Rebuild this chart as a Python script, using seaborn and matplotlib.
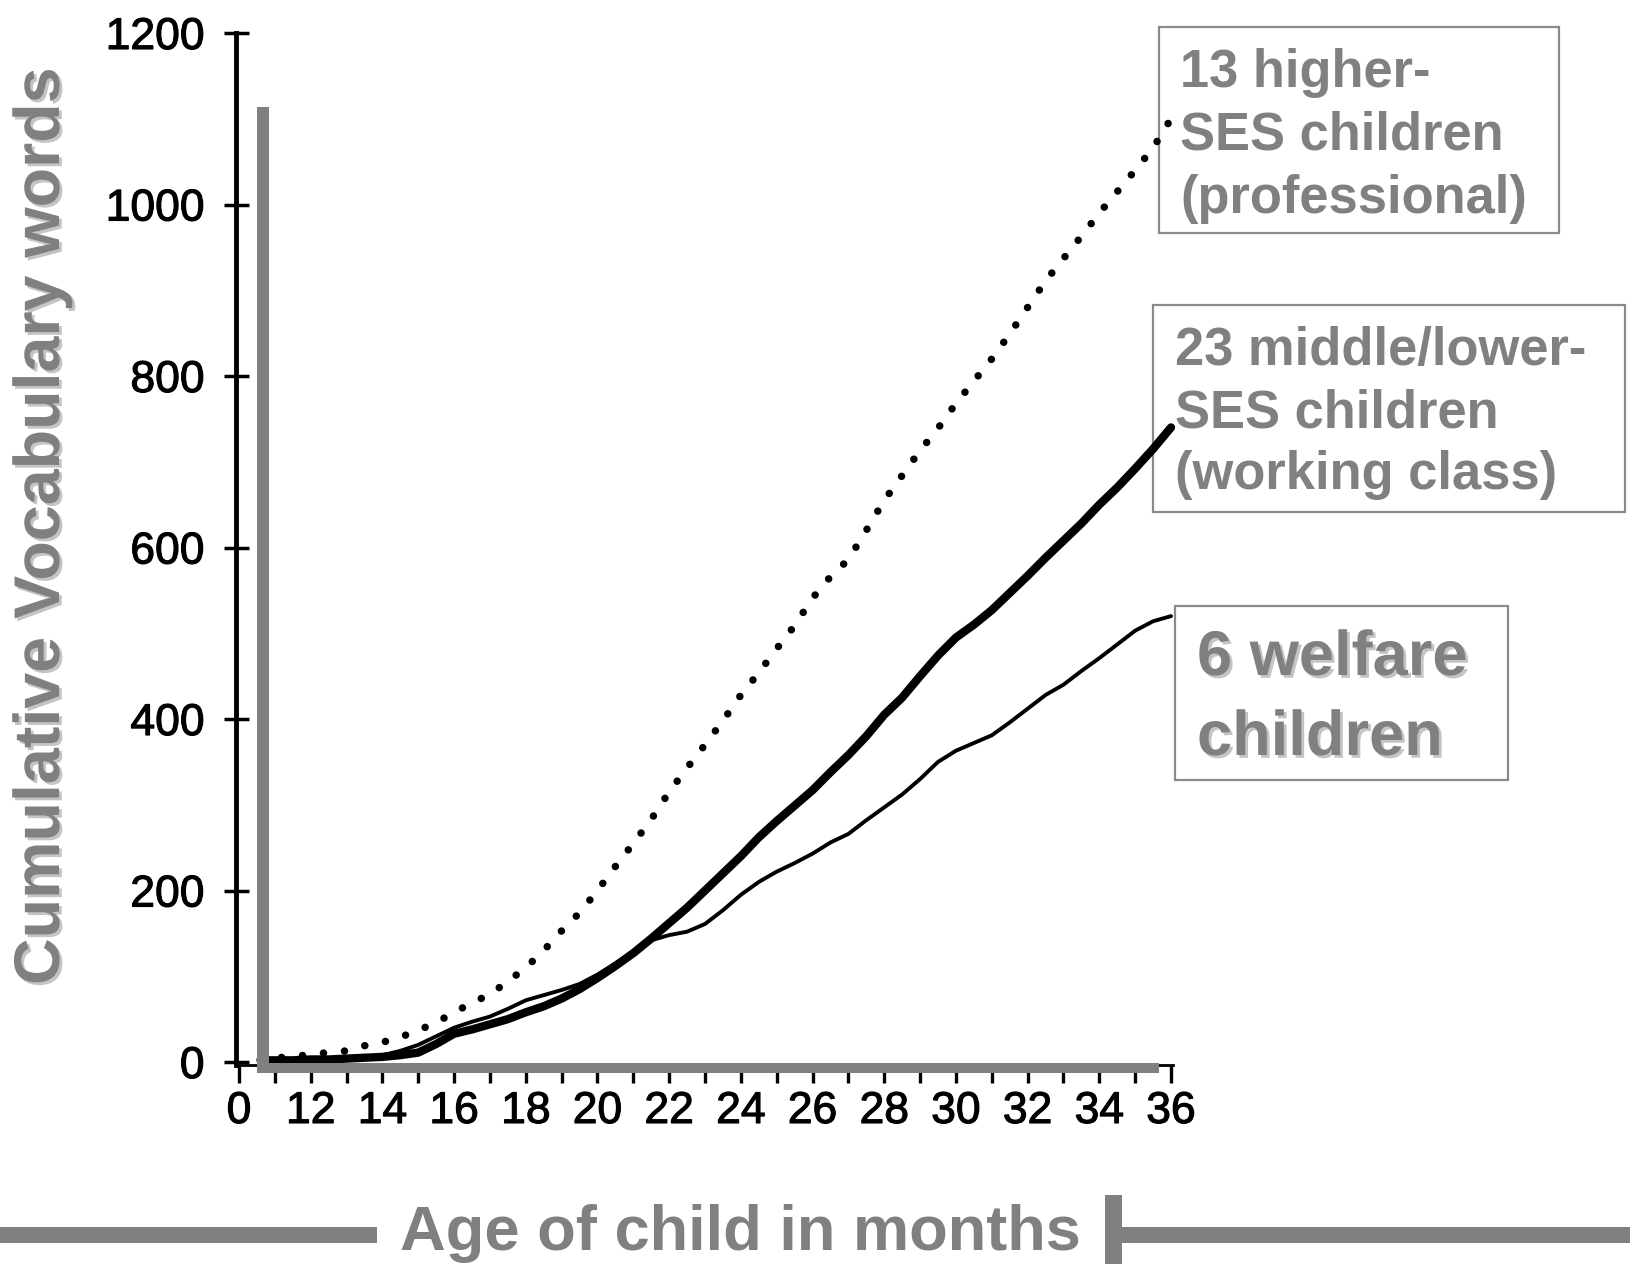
import matplotlib
matplotlib.use("Agg")
import matplotlib.pyplot as plt
import matplotlib.patheffects as pe
from matplotlib.patches import Rectangle
import pandas as pd
import seaborn as sns

# ---------------- data ----------------
months = [10.6, 11.0, 11.5, 12.0, 12.5, 13.0, 13.5, 14.0, 14.5, 15.0,
          15.5, 16.0, 16.5, 17.0, 17.5, 18.0, 18.5, 19.0, 19.5, 20.0,
          20.5, 21.0, 21.5, 22.0, 22.5, 23.0, 23.5, 24.0, 24.5, 25.0,
          25.5, 26.0, 26.5, 27.0, 27.5, 28.0, 28.5, 29.0, 29.5, 30.0,
          30.5, 31.0, 31.5, 32.0, 32.5, 33.0, 33.5, 34.0, 34.5, 35.0,
          35.5, 36.0]
higher_ses = [4, 5, 6, 9, 11, 13, 19, 23, 29, 37,
              46, 58, 69, 79, 94, 110, 130, 153, 174, 200,
              228, 255, 283, 315, 343, 370, 398, 428, 454, 482,
              509, 541, 566, 586, 620, 655, 684, 713, 739, 768,
              794, 820, 849, 880, 911, 937, 963, 990, 1015, 1040,
              1066, 1100]
middle_lower_ses = [2, 2, 2, 3, 3, 4, 5, 6, 8, 11,
                    21, 33, 38, 44, 50, 58, 65, 74, 85, 98,
                    112, 127, 144, 162, 180, 200, 220, 240, 262, 281,
                    299, 317, 338, 358, 380, 405, 425, 450, 474, 495,
                    510, 527, 547, 567, 588, 608, 628, 650, 670, 692,
                    715, 740]
welfare = [3, 3, 3, 4, 4, 5, 6, 8, 13, 20,
           30, 40, 47, 53, 62, 72, 78, 84, 91, 102,
           115, 128, 142, 148, 152, 161, 177, 195, 210, 222,
           232, 243, 256, 266, 282, 297, 312, 330, 350, 363,
           372, 381, 396, 412, 428, 440, 456, 471, 487, 503,
           514, 520]

x_major_ticks = [10, 12, 14, 16, 18, 20, 22, 24, 26, 28, 30, 32, 34, 36]
x_tick_labels = ["0", "12", "14", "16", "18", "20", "22", "24", "26", "28",
                 "30", "32", "34", "36"]
x_minor_ticks = [11, 13, 15, 17, 19, 21, 23, 25, 27, 29, 31, 33, 35]
y_ticks = [0, 200, 400, 600, 800, 1000, 1200]
y_tick_labels = ["0", "200", "400", "600", "800", "1000", "1200"]

label_higher = ["13 higher-", "SES children", "(professional)"]
label_middle = ["23 middle/lower-", "SES children", "(working class)"]
label_welfare = ["6 welfare", "children"]
x_label = "Age of child in months"
y_label = "Cumulative Vocabulary words"

# ---------------- styling ----------------
sns.set_theme(style="white")
plt.rcParams['font.family'] = ['Liberation Sans', 'DejaVu Sans']

GRAY = "#808080"
SHADOW = "#c4c4c4"
W, H = 1631, 1264


def fx(px):
    return px / W


def fy(py):
    return 1 - py / H


fig = plt.figure(figsize=(W / 100, H / 100), dpi=100)
fig.patch.set_facecolor("white")

# annotation boxes (drawn under the axes so the curves run over them)
def box(x0, y0, x1, y1):
    fig.add_artist(Rectangle((fx(x0), fy(y1)), (x1 - x0) / W, (y1 - y0) / H,
                             transform=fig.transFigure, facecolor="none",
                             edgecolor="#8a8a8a", linewidth=1.6, zorder=-1))


box(1159, 27, 1559, 233)
box(1153, 305, 1625, 512)
box(1175, 606, 1508, 780)

ax_left, ax_right, ax_top, ax_bottom = 236.5, 1172.8, 33.0, 1064.6
ax = fig.add_axes([fx(ax_left), fy(ax_bottom), (ax_right - ax_left) / W,
                   (ax_bottom - ax_top) / H])
ax.patch.set_alpha(0)

df = pd.DataFrame({"month": months, "higher": higher_ses,
                   "middle": middle_lower_ses, "welfare": welfare})

sns.lineplot(data=df, x="month", y="higher", ax=ax, color="black",
             linewidth=5.4, linestyle=(0, (0.01, 2.8)),
             dash_capstyle="round", zorder=6, clip_on=False)
sns.lineplot(data=df, x="month", y="middle", ax=ax, color="black",
             linewidth=6.0, solid_capstyle="round", zorder=5, clip_on=False)
sns.lineplot(data=df, x="month", y="welfare", ax=ax, color="black",
             linewidth=2.8, solid_capstyle="round", zorder=5, clip_on=False)

ax.set_xlim(9.93, 36.05)
ax.set_ylim(-3, 1200)
ax.set_xlabel("")
ax.set_ylabel("")

ax.set_xticks(x_major_ticks)
ax.set_xticklabels(x_tick_labels)
ax.set_xticks(x_minor_ticks, minor=True)
ax.set_yticks(y_ticks)
ax.set_yticklabels(y_tick_labels)

ax.tick_params(axis="y", direction="inout", length=18, width=2.5,
               pad=14, labelsize=32, colors="black", left=True)
ax.tick_params(axis="x", which="major", direction="out", length=13,
               width=2.4, pad=6, labelsize=32, colors="black", bottom=True)
ax.tick_params(axis="x", which="minor", direction="out", length=13,
               width=2.4, colors="black", bottom=True)

thick_fx = [pe.withStroke(linewidth=0.8, foreground="black")]
for lab in ax.get_xticklabels() + ax.get_yticklabels():
    lab.set_path_effects(thick_fx)

for s in ("top", "right"):
    ax.spines[s].set_visible(False)
ax.spines["left"].set_color("black")
ax.spines["left"].set_linewidth(3.5)
ax.spines["bottom"].set_color("black")
ax.spines["bottom"].set_linewidth(2)
ax.grid(False)

# ---------------- gray decorative bars ----------------
def gray_rect(x0, y0, x1, y1, color=GRAY, z=4):
    fig.add_artist(Rectangle((fx(x0), fy(y1)), (x1 - x0) / W, (y1 - y0) / H,
                             transform=fig.transFigure, facecolor=color,
                             edgecolor="none", zorder=z))

gray_rect(257, 107, 269, 1073)     # vertical break bar
gray_rect(257, 1063, 1159, 1073)   # horizontal bar over x axis
gray_rect(0, 1227, 377, 1243)      # bottom left bar
gray_rect(1122, 1227, 1631, 1243)  # bottom right bar
gray_rect(1105, 1195, 1122, 1264)  # bottom vertical tick

# ---------------- axis titles ----------------
shadow_fx = [pe.SimplePatchShadow(offset=(2, -2), shadow_rgbFace=SHADOW,
                                  alpha=1.0), pe.Normal()]
fig.text(fx(42), fy(526), y_label, rotation=90, fontsize=46.5,
         fontweight="bold", color=GRAY, ha="center", va="center",
         path_effects=shadow_fx)
fig.text(fx(740), fy(1250), x_label, fontsize=45.5, fontweight="bold",
         color=GRAY, ha="center", va="baseline")

# ---------------- annotation texts ----------------
def box_text(lines, x, y_first, step, size, shadow=False):
    for i, line in enumerate(lines):
        fig.text(fx(x), fy(y_first + i * step), line, fontsize=size,
                 fontweight="bold", color=GRAY, ha="left", va="baseline",
                 zorder=7, path_effects=shadow_fx if shadow else None)


box_text(label_higher, 1180, 87, 63, 37.8)
box_text(label_middle, 1175, 365, 62, 37.8)
box_text(label_welfare, 1197, 675, 80, 45.5, shadow=True)

fig.savefig("out.png", dpi=100, facecolor="white")
